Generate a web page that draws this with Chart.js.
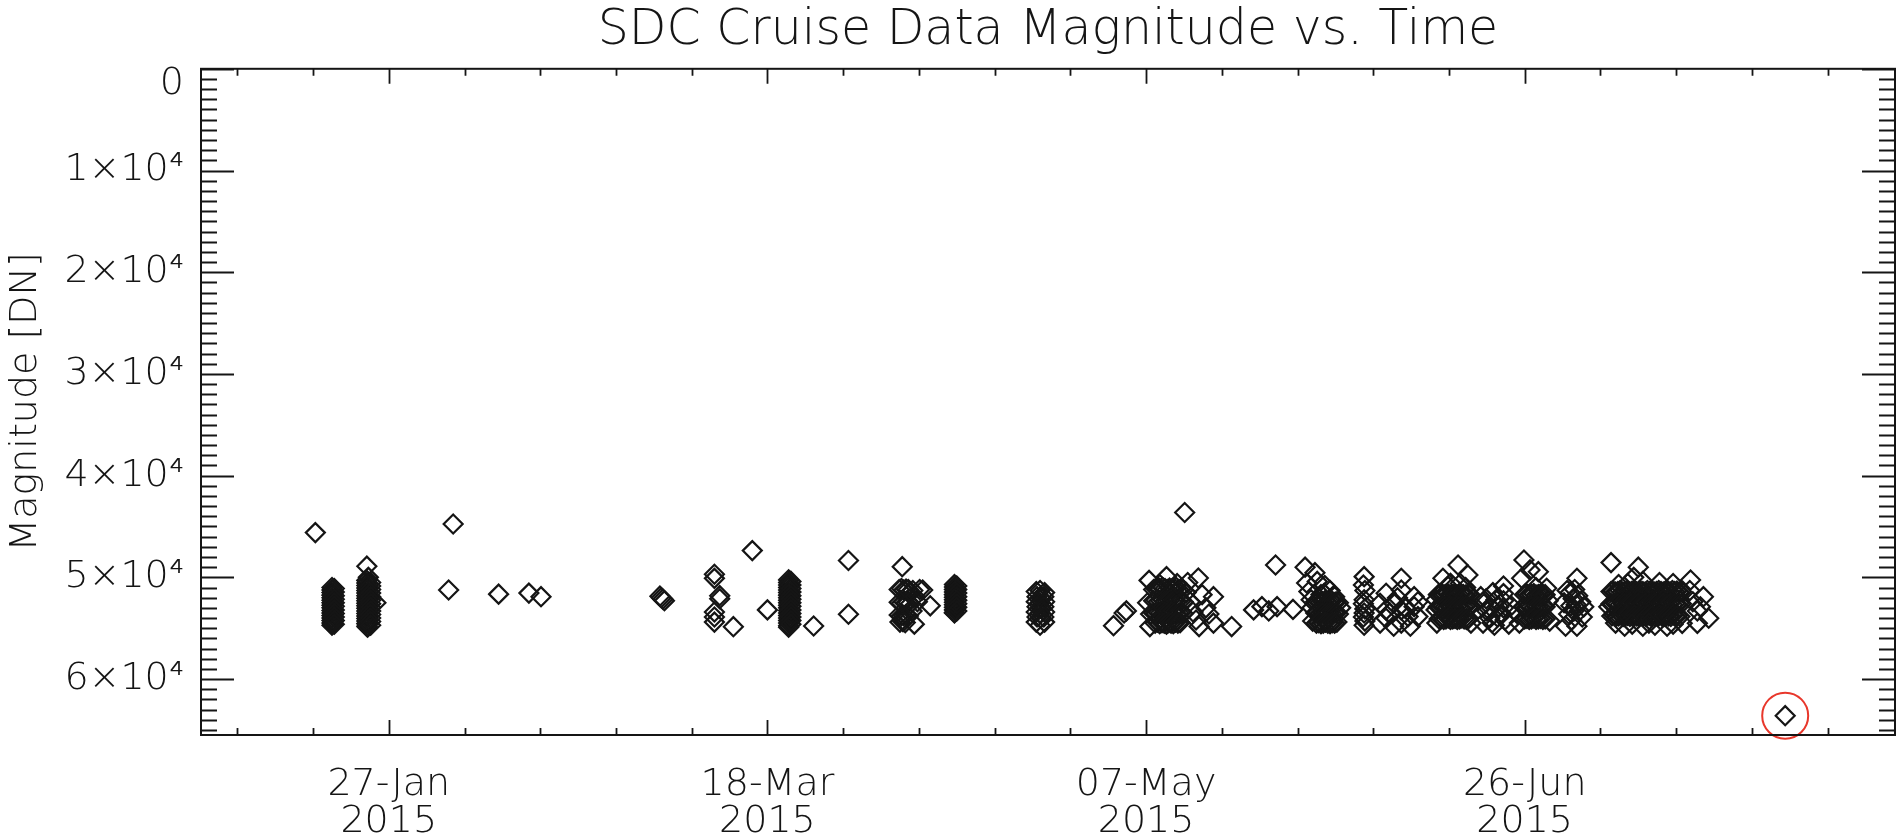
<!DOCTYPE html>
<html>
<head>
<meta charset="utf-8">
<title>SDC Cruise Data Magnitude vs. Time</title>
<script src="https://cdn.jsdelivr.net/npm/chart.js@4.4.1/dist/chart.umd.min.js"></script>
<style>
  html, body { margin: 0; padding: 0; background: #fff; overflow: hidden; }
  #wrap { width: 1897px; height: 837px; }
  canvas { display: block; }
</style>
</head>
<body>
<div id="wrap"><canvas id="magChart"></canvas></div>
<script>
// x = day of year 2015 (1 = 01-Jan), y = magnitude in DN
const majorDays = [27, 77, 127, 177];
const tickLabels = [['27-Jan', '2015'], ['18-Mar', '2015'], ['07-May', '2015'], ['26-Jun', '2015']];
const magTicks = [0, 10000, 20000, 30000, 40000, 50000, 60000];
// the "0" sits a little below its tick in the original, hence the empty first line
const magTickLabels = [['', '0'], '1×10⁴', '2×10⁴', '3×10⁴', '4×10⁴', '5×10⁴', '6×10⁴'];

const janPoints = [
  [17.3, 45600],
  [19.5, 51000], [19.5, 51250], [19.5, 51500], [19.5, 51750], [19.5, 52000], [19.5, 52250], [19.5, 52500],
  [19.5, 52750], [19.5, 53000], [19.5, 53250], [19.5, 53500], [19.5, 53750], [19.5, 54000], [19.5, 54250],
  [19.5, 54500], [19.5, 54700],
  [19.8, 51100], [19.8, 51450], [19.8, 51800], [19.8, 52150], [19.8, 52500], [19.8, 52850], [19.8, 53200],
  [19.8, 53550], [19.8, 53900], [19.8, 54250], [19.8, 54600],
  [24.1, 48900], [24.3, 50000], [25.3, 52500],
  [24.1, 50300], [24.1, 50550], [24.1, 50800], [24.1, 51050], [24.1, 51300], [24.1, 51550], [24.1, 51800],
  [24.1, 52050], [24.1, 52300], [24.1, 52550], [24.1, 52800], [24.1, 53050], [24.1, 53300], [24.1, 53550],
  [24.1, 53800], [24.1, 54050], [24.1, 54300], [24.1, 54550], [24.1, 54800], [24.2, 54900],
  [24.6, 50500], [24.6, 50850], [24.6, 51200], [24.6, 51550], [24.6, 51900], [24.6, 52250], [24.6, 52600],
  [24.6, 52950], [24.6, 53300], [24.6, 53650], [24.6, 54000], [24.6, 54350], [24.6, 54700],
  [34.9, 51250], [35.5, 44750], [41.5, 51650], [45.5, 51550], [47.1, 51900]
];

const marPoints = [
  [62.8, 51850], [63.0, 52000], [63.2, 52150], [63.4, 52300],
  [70.0, 49700], [70.0, 50100], [70.7, 51800], [70.7, 52100], [70.0, 53400], [70.0, 53900], [70.0, 54400],
  [72.5, 54850], [75.0, 47370], [77.0, 53200],
  [79.8, 50250], [79.8, 50500], [79.8, 50750], [79.8, 51000], [79.8, 51250], [79.8, 51500], [79.8, 51750],
  [79.8, 52000], [79.8, 52250], [79.8, 52500], [79.8, 52750], [79.8, 53000], [79.8, 53250], [79.8, 53500],
  [79.8, 53750], [79.8, 54000], [79.8, 54250], [79.8, 54500], [79.8, 54750], [79.8, 54900],
  [80.1, 50400], [80.1, 50750], [80.1, 51100], [80.1, 51450], [80.1, 51800], [80.1, 52150], [80.1, 52500],
  [80.1, 52850], [80.1, 53200], [80.1, 53550], [80.1, 53900], [80.1, 54250], [80.1, 54600],
  [83.1, 54780], [87.7, 48350], [87.7, 53630]
];

const aprPoints = [
  [94.8, 48950],
  [94.4, 51200], [94.7, 51100], [95.0, 51250], [95.3, 51150], [95.6, 51200],
  [94.4, 52450], [94.7, 52550], [95.0, 52400], [95.3, 52500], [95.6, 52450],
  [94.4, 53700], [94.7, 53800], [95.0, 53750], [95.3, 53650], [95.6, 53800],
  [94.5, 54400], [94.9, 54350], [95.2, 54450],
  [95.8, 51500], [95.9, 52600], [96.2, 51300], [96.5, 51900], [96.1, 53300], [96.4, 54600],
  [97.1, 51200], [96.8, 52400], [97.5, 51250],
  [98.5, 52800],
  [101.7, 50700], [101.7, 50950], [101.7, 51200], [101.7, 51450], [101.7, 51700], [101.7, 51950], [101.7, 52200],
  [101.7, 52450], [101.7, 52700], [101.7, 52950], [101.7, 53200], [101.7, 53450], [101.7, 53500],
  [102.0, 50850], [102.0, 51200], [102.0, 51550], [102.0, 51900], [102.0, 52250], [102.0, 52600], [102.0, 52950],
  [102.0, 53300],
  [112.5, 51400], [113.0, 51300], [113.6, 51500], [112.6, 51900], [113.1, 52000], [113.5, 51900],
  [112.5, 52400], [113.0, 52500], [113.6, 52400], [112.6, 52900], [113.1, 53000], [113.5, 52900],
  [112.5, 53400], [113.0, 53500], [113.6, 53400], [112.6, 53900], [113.1, 54000], [113.5, 53900],
  [112.5, 54400], [113.0, 54700], [113.6, 54400]
];

const mayPoints = [
  [122.7, 54750], [124.1, 53500], [124.4, 53300],
  [128.0, 51200], [128.3, 51100], [128.6, 51050], [128.9, 51150], [129.2, 51000], [129.5, 51100], [129.8, 51200],
  [130.1, 51050], [130.4, 51150], [130.7, 51100], [131.0, 51000], [131.3, 51200], [131.6, 51100], [131.9, 51250],
  [128.0, 52300], [128.3, 52250], [128.6, 52400], [128.9, 52300], [129.2, 52200], [129.5, 52350], [129.8, 52300],
  [130.1, 52250], [130.4, 52400], [130.7, 52300], [131.0, 52350], [131.3, 52200], [131.6, 52300], [131.9, 52400],
  [128.0, 53500], [128.3, 53550], [128.6, 53450], [128.9, 53500], [129.2, 53600], [129.5, 53450], [129.8, 53500],
  [130.1, 53550], [130.4, 53400], [130.7, 53500], [131.0, 53600], [131.3, 53500], [131.6, 53450], [131.9, 53550],
  [128.2, 54500], [128.5, 54400], [128.8, 54550], [129.1, 54450], [129.4, 54500], [129.7, 54600], [130.0, 54450],
  [130.3, 54500], [130.6, 54550], [130.9, 54400], [131.2, 54500], [131.5, 54450],
  [132.3, 51500], [132.8, 52400], [133.2, 53400], [133.6, 54200], [133.9, 50060], [134.4, 51700], [134.9, 53000],
  [135.3, 53600], [135.9, 51900], [135.9, 54500], [134.0, 54840], [132.5, 50500],
  [127.4, 50300], [127.5, 54840], [127.2, 52500], [127.6, 53600], [128.8, 50700], [131.1, 50600],
  [129.7, 49930], [132.1, 43630], [138.3, 54840],
  [141.2, 53200], [142.3, 52880], [143.2, 53300], [144.3, 52880], [146.4, 53150], [144.1, 48780]
];

const junPoints = [
  [148.0, 49000], [149.3, 49540], [148.2, 50550], [149.6, 50400], [150.6, 50800], [151.3, 51300], [148.5, 51400],
  [150.1, 51700], [150.5, 51600], [151.9, 51900], [148.9, 53000], [148.8, 52200], [149.0, 54300], [152.7, 53000],
  [149.4, 52400], [149.7, 52350], [150.0, 52450], [150.3, 52400], [150.6, 52300], [150.9, 52450], [151.2, 52400],
  [151.5, 52350], [151.8, 52450], [152.1, 52400], [152.4, 52500],
  [149.4, 53500], [149.7, 53450], [150.0, 53550], [150.3, 53500], [150.6, 53600], [150.9, 53450], [151.2, 53500],
  [151.5, 53550], [151.8, 53450], [152.1, 53500], [152.4, 53600],
  [149.5, 54500], [149.8, 54450], [150.1, 54550], [150.4, 54500], [150.7, 54400], [151.0, 54500], [151.3, 54550],
  [151.6, 54450], [151.9, 54500], [152.2, 54400],
  [155.8, 49930], [155.7, 50750], [155.9, 51300], [155.8, 52200], [155.7, 52600], [155.9, 53100], [155.8, 53500],
  [155.7, 53900], [155.9, 54300], [155.8, 54700],
  [158.7, 51570], [160.7, 50090], [160.7, 51240], [160.7, 53200], [158.7, 53200], [162.4, 51900], [162.4, 52880],
  [162.9, 53860], [160.7, 54500], [158.7, 54020], [159.7, 52550], [159.7, 54800], [161.9, 54800], [162.9, 52400],
  [157.9, 52550], [157.9, 54500], [161.6, 53860], [159.2, 53500], [160.2, 52000], [161.2, 53000],
  [166.2, 50090], [168.2, 48780], [169.5, 49770], [167.2, 50580], [165.3, 52210], [165.3, 53200], [165.4, 54500],
  [169.2, 51000], [169.9, 54500], [166.9, 50900], [168.5, 50600],
  [165.6, 51700], [165.9, 51650], [166.2, 51750], [166.5, 51700], [166.8, 51600], [167.1, 51750], [167.4, 51700],
  [167.7, 51650], [168.0, 51750], [168.3, 51700], [168.6, 51600], [168.9, 51700], [169.2, 51750], [169.5, 51650],
  [169.8, 51700],
  [165.6, 52900], [165.9, 52950], [166.2, 52850], [166.5, 52900], [166.8, 53000], [167.1, 52850], [167.4, 52900],
  [167.7, 52950], [168.0, 52850], [168.3, 52900], [168.6, 53000], [168.9, 52900], [169.2, 52850], [169.5, 52950],
  [169.8, 52900],
  [165.7, 54100], [166.0, 54050], [166.3, 54150], [166.6, 54100], [166.9, 54000], [167.2, 54150], [167.5, 54100],
  [167.8, 54050], [168.1, 54150], [168.4, 54100], [168.7, 54000], [169.0, 54100], [169.3, 54150], [169.6, 54050],
  [171.2, 51900], [171.6, 52600], [172.0, 53300], [172.4, 54000], [172.7, 54470], [172.8, 51500], [173.2, 52200],
  [173.6, 52900], [174.0, 53600], [174.2, 50850], [174.2, 51600], [174.2, 52300], [174.2, 53000], [174.4, 54200],
  [174.9, 54600], [175.2, 52800], [171.5, 54500], [173.0, 54700], [171.9, 52100], [172.6, 53000], [173.4, 53900]
];

const julPoints = [
  [176.9, 48290], [177.7, 49270], [178.8, 49440], [176.6, 50090], [179.9, 51070], [178.5, 51000],
  [176.8, 52900], [176.3, 54500], [180.3, 54300], [180.1, 52300],
  [177.0, 51700], [177.3, 51650], [177.6, 51750], [177.9, 51700], [178.2, 51600], [178.5, 51750], [178.8, 51700],
  [179.1, 51650], [179.4, 51750], [179.7, 51700],
  [177.0, 52900], [177.3, 52950], [177.6, 52850], [177.9, 52900], [178.2, 53000], [178.5, 52850], [178.8, 52900],
  [179.1, 52950], [179.4, 52850], [179.7, 52900],
  [177.0, 54100], [177.3, 54050], [177.6, 54150], [177.9, 54100], [178.2, 54000], [178.5, 54150], [178.8, 54100],
  [179.1, 54050], [179.4, 54150], [179.7, 54100],
  [183.9, 50090], [182.4, 54800], [183.9, 54800], [182.2, 52500],
  [183.0, 51500], [183.4, 52100], [183.8, 52700], [184.2, 53300], [184.6, 53900], [182.8, 53600], [183.2, 54200],
  [183.6, 51200], [184.0, 51800], [184.4, 52400], [182.6, 51300], [184.8, 52900], [183.5, 53300], [183.1, 52800],
  [188.4, 48550], [192.0, 49000], [191.4, 50000], [192.6, 50400], [190.6, 50600], [189.4, 50700], [194.8, 50500],
  [196.6, 50600], [188.1, 52900],
  [188.4, 51400], [188.7, 51350], [189.0, 51450], [189.3, 51400], [189.6, 51300], [189.9, 51450], [190.2, 51400],
  [190.5, 51350], [190.8, 51450], [191.1, 51400], [191.4, 51300], [191.7, 51400], [192.0, 51450], [192.3, 51350],
  [192.6, 51400], [192.9, 51450], [193.2, 51300], [193.5, 51400], [193.8, 51350], [194.1, 51450], [194.4, 51400],
  [194.7, 51300], [195.0, 51400], [195.3, 51450], [195.6, 51350], [195.9, 51400], [196.2, 51450], [196.5, 51300],
  [196.8, 51400], [197.1, 51350], [197.4, 51450], [197.7, 51400],
  [188.4, 52600], [188.7, 52650], [189.0, 52550], [189.3, 52600], [189.6, 52700], [189.9, 52550], [190.2, 52600],
  [190.5, 52650], [190.8, 52550], [191.1, 52600], [191.4, 52700], [191.7, 52600], [192.0, 52550], [192.3, 52650],
  [192.6, 52600], [192.9, 52550], [193.2, 52700], [193.5, 52600], [193.8, 52650], [194.1, 52550], [194.4, 52600],
  [194.7, 52700], [195.0, 52600], [195.3, 52550], [195.6, 52650], [195.9, 52600], [196.2, 52550], [196.5, 52700],
  [196.8, 52600], [197.1, 52650], [197.4, 52550], [197.7, 52600],
  [188.5, 53800], [188.8, 53750], [189.1, 53850], [189.4, 53800], [189.7, 53700], [190.0, 53850], [190.3, 53800],
  [190.6, 53750], [190.9, 53850], [191.2, 53800], [191.5, 53700], [191.8, 53800], [192.1, 53850], [192.4, 53750],
  [192.7, 53800], [193.0, 53850], [193.3, 53700], [193.6, 53800], [193.9, 53750], [194.2, 53850], [194.5, 53800],
  [194.8, 53700], [195.1, 53800], [195.4, 53850], [195.7, 53750], [196.0, 53800], [196.3, 53850], [196.6, 53700],
  [196.9, 53800], [197.2, 53750], [197.5, 53850],
  [198.9, 50260], [200.6, 51900], [201.3, 54020], [199.8, 54520], [197.8, 54520], [195.8, 54800], [192.6, 54800],
  [190.2, 54800], [199.8, 53300], [199.2, 52400], [200.2, 52900], [198.8, 51300], [194.2, 54700], [196.6, 54600],
  [193.4, 54500], [191.2, 54600], [189.0, 54500]
];

const outlierPoint = [[211.4, 63600]];

const allPoints = [...janPoints, ...marPoints, ...aprPoints, ...mayPoints, ...junPoints, ...julPoints, ...outlierPoint]
  .map(p => ({ x: p[0], y: p[1] }));

const FONT = '"DejaVu Sans", sans-serif';
const WEIGHT = 200;
const INK = '#151515';

// IDL-style inward ticks on all four sides plus the box
const idlAxes = {
  id: 'idlAxes',
  afterDatasetsDraw(chart) {
    const { ctx, chartArea: a, scales: { x, y } } = chart;
    ctx.save();
    ctx.strokeStyle = INK;
    ctx.lineWidth = 2;
    ctx.strokeRect(a.left, a.top, a.right - a.left, a.bottom - a.top);
    ctx.lineWidth = 1.8;
    ctx.beginPath();
    for (let d = 7; d <= x.max; d += 10) {
      const px = Math.round(x.getPixelForValue(d)) + 0.5;
      const len = majorDays.includes(d) ? 15 : 7;
      ctx.moveTo(px, a.bottom); ctx.lineTo(px, a.bottom - len);
      ctx.moveTo(px, a.top); ctx.lineTo(px, a.top + len);
    }
    for (let v = 0; v <= y.max; v += 1000) {
      const py = Math.round(y.getPixelForValue(v)) + 0.5;
      const len = v % 10000 === 0 ? 33 : 16;
      ctx.moveTo(a.left, py); ctx.lineTo(a.left + len, py);
      ctx.moveTo(a.right, py); ctx.lineTo(a.right - len, py);
    }
    ctx.stroke();
    ctx.restore();
  }
};

new Chart(document.getElementById('magChart'), {
  type: 'scatter',
  data: {
    datasets: [{
      label: 'Magnitude',
      data: allPoints,
      pointStyle: 'rectRot',
      pointRadius: 9.5,
      pointBorderWidth: 2.2,
      borderColor: INK,
      backgroundColor: 'rgba(0,0,0,0)'
    }, {
      label: 'flagged',
      data: outlierPoint.map(p => ({ x: p[0], y: p[1] })),
      pointStyle: 'circle',
      pointRadius: 23,
      pointBorderWidth: 2,
      borderColor: '#e8372b',
      backgroundColor: 'rgba(0,0,0,0)',
      clip: false
    }]
  },
  options: {
    responsive: true,
    maintainAspectRatio: false,
    animation: false,
    events: [],
    layout: { autoPadding: false, padding: { left: 0, right: 2, top: 0, bottom: 0 } },
    scales: {
      x: {
        type: 'linear',
        min: 2.2,
        max: 225.9,
        grid: { display: false },
        border: { display: false },
        afterBuildTicks: s => { s.ticks = majorDays.map(v => ({ value: v })); },
        afterFit: s => { s.height = 102; },
        ticks: {
          autoSkip: false,
          maxRotation: 0,
          padding: 24,
          color: INK,
          font: { family: FONT, size: 38, weight: WEIGHT, lineHeight: 0.97 },
          callback: (v, i) => tickLabels[i]
        }
      },
      y: {
        type: 'linear',
        reverse: true,
        min: 0,
        max: 65500,
        grid: { display: false },
        border: { display: false },
        afterBuildTicks: s => { s.ticks = magTicks.map(v => ({ value: v })); },
        afterFit: s => { s.width = 201; },
        ticks: {
          padding: 9,
          color: INK,
          font: { family: FONT, size: 38, weight: WEIGHT, lineHeight: 0.8 },
          callback: (v, i) => magTickLabels[i]
        },
        title: {
          display: true,
          text: 'Magnitude [DN]',
          color: INK,
          font: { family: FONT, size: 38, weight: WEIGHT },
          padding: { top: 3, bottom: 0 }
        }
      }
    },
    plugins: {
      legend: { display: false },
      tooltip: { enabled: false },
      title: {
        display: true,
        fullSize: false,
        text: 'SDC Cruise Data Magnitude vs. Time',
        color: INK,
        font: { family: FONT, size: 49, weight: WEIGHT },
        padding: { top: 2, bottom: 8 }
      }
    }
  },
  plugins: [idlAxes]
});
</script>
</body>
</html>
